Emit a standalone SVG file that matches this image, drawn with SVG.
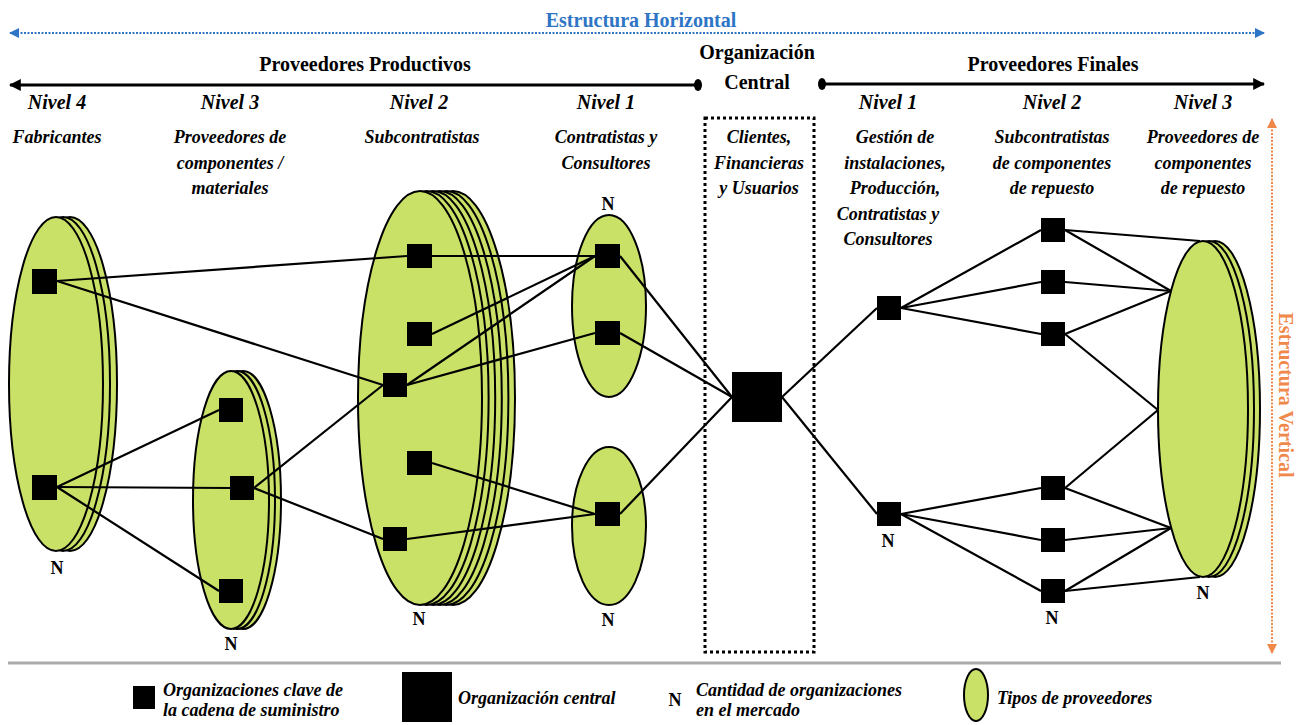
<svg xmlns="http://www.w3.org/2000/svg" width="1300" height="725" viewBox="0 0 1300 725">
<defs>
<style>
.bg{fill:#ffffff}
.ell{fill:#C9E166;stroke:#000;stroke-width:2}
.sq{fill:#000}
.con line{stroke:#000;stroke-width:2.2}
.hd{font-family:"Liberation Serif","Times New Roman",serif;font-weight:bold;font-size:20px;fill:#000;text-anchor:middle}
.nv{font-family:"Liberation Serif","Times New Roman",serif;font-weight:bold;font-style:italic;font-size:20px;fill:#000;text-anchor:middle}
.ds{font-family:"Liberation Serif","Times New Roman",serif;font-weight:bold;font-style:italic;font-size:18px;fill:#000;text-anchor:middle}
.n{font-family:"Liberation Serif","Times New Roman",serif;font-weight:bold;font-size:18px;fill:#000;text-anchor:middle}
.lg{font-family:"Liberation Serif","Times New Roman",serif;font-weight:bold;font-style:italic;font-size:18px;fill:#000}
</style>
<marker id="ab" viewBox="0 0 10 10" refX="9" refY="5" markerWidth="5" markerHeight="5" orient="auto-start-reverse"><path d="M0,0 L10,5 L0,10 z" fill="#2E75C6"/></marker>
<marker id="ao" viewBox="0 0 10 10" refX="9" refY="5" markerWidth="5" markerHeight="5" orient="auto-start-reverse"><path d="M0,0 L10,5 L0,10 z" fill="#F0884A"/></marker>
<marker id="ak" viewBox="0 0 10 10" refX="9" refY="5" markerWidth="4" markerHeight="4" orient="auto-start-reverse"><path d="M0,0 L10,5 L0,10 z" fill="#000"/></marker>
</defs>
<rect class="bg" x="0" y="0" width="1300" height="725"/>

<!-- top structure -->
<g id="horizontal">
<text x="641" y="27" class="hd" style="fill:#2E75C6">Estructura Horizontal</text>
<line x1="10" y1="33" x2="1264" y2="33" stroke="#2E75C6" stroke-width="2" stroke-dasharray="2 1.5" marker-start="url(#ab)" marker-end="url(#ab)"/>
</g>
<g id="productivos">
<text x="365" y="71" class="hd">Proveedores Productivos</text>
<line x1="10" y1="85" x2="698" y2="85" stroke="#000" stroke-width="3" marker-start="url(#ak)"/>
<ellipse cx="698" cy="85" rx="4" ry="6" fill="#000"/>
</g>
<g id="central-title">
<text x="757" y="59" class="hd">Organización</text>
<text x="757" y="89" class="hd">Central</text>
</g>
<g id="finales">
<text x="1053" y="71" class="hd">Proveedores Finales</text>
<ellipse cx="822" cy="84" rx="4" ry="6" fill="#000"/>
<line x1="822" y1="84" x2="1264" y2="84" stroke="#000" stroke-width="3" marker-end="url(#ak)"/>
</g>
<g id="vertical">
<line x1="1272" y1="119" x2="1272" y2="653" stroke="#F0884A" stroke-width="2" stroke-dasharray="2 1.5" marker-start="url(#ao)" marker-end="url(#ao)"/>
<text transform="translate(1279,395) rotate(90)" x="0" y="0" class="hd" style="fill:#F0884A">Estructura Vertical</text>
</g>

<!-- headers -->
<g id="headers">
<text x="57" y="109" class="nv">Nivel 4</text>
<text x="57" y="143" class="ds">Fabricantes</text>
<text x="230" y="109" class="nv">Nivel 3</text>
<text x="230" y="143" class="ds">Proveedores de</text>
<text x="230" y="169" class="ds">componentes /</text>
<text x="230" y="194" class="ds">materiales</text>
<text x="419" y="109" class="nv">Nivel 2</text>
<text x="422" y="143" class="ds">Subcontratistas</text>
<text x="606" y="109" class="nv">Nivel 1</text>
<text x="606" y="143" class="ds">Contratistas y</text>
<text x="606" y="169" class="ds">Consultores</text>
<text x="759" y="143" class="ds">Clientes,</text>
<text x="759" y="169" class="ds">Financieras</text>
<text x="759" y="194" class="ds">y Usuarios</text>
<text x="888" y="109" class="nv">Nivel 1</text>
<text x="895" y="143" class="ds">Gestión de</text>
<text x="895" y="169" class="ds">instalaciones,</text>
<text x="895" y="194" class="ds">Producción,</text>
<text x="888" y="220" class="ds">Contratistas y</text>
<text x="888" y="245" class="ds">Consultores</text>
<text x="1052" y="109" class="nv">Nivel 2</text>
<text x="1052" y="143" class="ds">Subcontratistas</text>
<text x="1052" y="169" class="ds">de componentes</text>
<text x="1052" y="194" class="ds">de repuesto</text>
<text x="1203" y="109" class="nv">Nivel 3</text>
<text x="1203" y="143" class="ds">Proveedores de</text>
<text x="1203" y="169" class="ds">componentes</text>
<text x="1203" y="194" class="ds">de repuesto</text>
</g>

<!-- central box -->
<rect id="central-box" x="705" y="118" width="109" height="534" fill="none" stroke="#000" stroke-width="3" stroke-dasharray="3 3"/>

<!-- ellipse stacks -->
<g id="nivel4-stack">
<ellipse class="ell" cx="70" cy="384" rx="47" ry="167"/>
<ellipse class="ell" cx="63" cy="384" rx="47" ry="167"/>
<ellipse class="ell" cx="56" cy="384" rx="47" ry="167"/>
</g>
<g id="nivel3-stack">
<ellipse class="ell" cx="243" cy="500" rx="38" ry="129"/>
<ellipse class="ell" cx="237" cy="500" rx="38" ry="129"/>
<ellipse class="ell" cx="231" cy="500" rx="38" ry="129"/>
</g>
<g id="nivel2-stack">
<ellipse class="ell" cx="453" cy="398" rx="62" ry="207"/>
<ellipse class="ell" cx="446.4" cy="398" rx="62" ry="207"/>
<ellipse class="ell" cx="439.8" cy="398" rx="62" ry="207"/>
<ellipse class="ell" cx="433.2" cy="398" rx="62" ry="207"/>
<ellipse class="ell" cx="426.6" cy="398" rx="62" ry="207"/>
<ellipse class="ell" cx="420" cy="398" rx="62" ry="207"/>
</g>
<g id="nivel1-upper">
<ellipse class="ell" cx="609" cy="306" rx="37" ry="91"/>
</g>
<g id="nivel1-lower">
<ellipse class="ell" cx="609" cy="526" rx="37" ry="79"/>
</g>
<g id="final-nivel3-stack">
<ellipse class="ell" cx="1215" cy="409" rx="45" ry="168"/>
<ellipse class="ell" cx="1209" cy="409" rx="45" ry="168"/>
<ellipse class="ell" cx="1203" cy="409" rx="45" ry="168"/>
</g>

<!-- connectors -->
<g id="connectors" class="con">
<line x1="57" y1="281" x2="407" y2="256"/>
<line x1="57" y1="281" x2="383" y2="385"/>
<line x1="57" y1="487" x2="219" y2="410"/>
<line x1="57" y1="487" x2="230" y2="488"/>
<line x1="57" y1="487" x2="219" y2="591"/>
<line x1="254" y1="488" x2="383" y2="385"/>
<line x1="254" y1="488" x2="383" y2="539"/>
<line x1="432" y1="256" x2="595" y2="256"/>
<line x1="432" y1="334" x2="595" y2="256"/>
<line x1="407" y1="385" x2="595" y2="256"/>
<line x1="407" y1="385" x2="595" y2="333"/>
<line x1="432" y1="463" x2="595" y2="514"/>
<line x1="407" y1="539" x2="595" y2="514"/>
<line x1="620" y1="256" x2="732" y2="397"/>
<line x1="620" y1="333" x2="732" y2="397"/>
<line x1="620" y1="514" x2="732" y2="397"/>
<line x1="782" y1="397" x2="877" y2="308"/>
<line x1="782" y1="397" x2="877" y2="514"/>
<line x1="901" y1="308" x2="1041" y2="230"/>
<line x1="901" y1="308" x2="1041" y2="282"/>
<line x1="901" y1="308" x2="1041" y2="334"/>
<line x1="901" y1="514" x2="1041" y2="488"/>
<line x1="901" y1="514" x2="1041" y2="540"/>
<line x1="901" y1="514" x2="1041" y2="591"/>
<line x1="1065" y1="230" x2="1200" y2="241"/>
<line x1="1065" y1="230" x2="1171" y2="291"/>
<line x1="1065" y1="282" x2="1171" y2="291"/>
<line x1="1065" y1="334" x2="1171" y2="291"/>
<line x1="1065" y1="334" x2="1158" y2="410"/>
<line x1="1065" y1="488" x2="1158" y2="410"/>
<line x1="1065" y1="488" x2="1171" y2="528"/>
<line x1="1065" y1="540" x2="1171" y2="528"/>
<line x1="1065" y1="591" x2="1171" y2="528"/>
<line x1="1065" y1="591" x2="1200" y2="577"/>
</g>

<!-- key organizations -->
<g id="n4-a"><rect class="sq" x="32" y="269" width="25" height="25"/></g>
<g id="n4-b"><rect class="sq" x="32" y="475" width="25" height="25"/></g>
<g id="n3-a"><rect class="sq" x="219" y="398" width="24" height="24"/></g>
<g id="n3-b"><rect class="sq" x="230" y="476" width="24" height="24"/></g>
<g id="n3-c"><rect class="sq" x="219" y="579" width="24" height="24"/></g>
<g id="n2-a"><rect class="sq" x="407" y="244" width="25" height="24"/></g>
<g id="n2-b"><rect class="sq" x="407" y="322" width="25" height="24"/></g>
<g id="n2-c"><rect class="sq" x="383" y="373" width="24" height="24"/></g>
<g id="n2-d"><rect class="sq" x="407" y="451" width="25" height="24"/></g>
<g id="n2-e"><rect class="sq" x="383" y="527" width="24" height="24"/></g>
<g id="n1-a"><rect class="sq" x="595" y="244" width="25" height="24"/></g>
<g id="n1-b"><rect class="sq" x="595" y="321" width="25" height="24"/></g>
<g id="n1-c"><rect class="sq" x="595" y="502" width="25" height="24"/></g>
<g id="central"><rect class="sq" x="732" y="372" width="50" height="50"/></g>
<g id="f1-a"><rect class="sq" x="877" y="296" width="24" height="24"/></g>
<g id="f1-b"><rect class="sq" x="877" y="502" width="24" height="24"/></g>
<g id="f2-a"><rect class="sq" x="1041" y="218" width="24" height="24"/></g>
<g id="f2-b"><rect class="sq" x="1041" y="270" width="24" height="24"/></g>
<g id="f2-c"><rect class="sq" x="1041" y="322" width="24" height="24"/></g>
<g id="f2-d"><rect class="sq" x="1041" y="476" width="24" height="24"/></g>
<g id="f2-e"><rect class="sq" x="1041" y="528" width="24" height="24"/></g>
<g id="f2-f"><rect class="sq" x="1041" y="579" width="24" height="24"/></g>

<!-- N labels -->
<g id="n-labels">
<text x="57" y="574" class="n">N</text>
<text x="231" y="650" class="n">N</text>
<text x="419" y="625" class="n">N</text>
<text x="608" y="210" class="n">N</text>
<text x="608" y="626" class="n">N</text>
<text x="888" y="547" class="n">N</text>
<text x="1052" y="624" class="n">N</text>
<text x="1203" y="599" class="n">N</text>
</g>

<!-- separator -->
<line x1="8" y1="663" x2="1281" y2="663" stroke="#AAAAAA" stroke-width="3"/>

<!-- legend -->
<g id="legend">
<rect class="sq" x="133" y="686" width="22" height="23"/>
<text x="163" y="696" class="lg">Organizaciones clave de</text>
<text x="163" y="716" class="lg">la cadena de suministro</text>
<rect class="sq" x="402" y="672" width="50" height="50"/>
<text x="458" y="704" class="lg">Organización central</text>
<text x="675" y="706" class="n">N</text>
<text x="696" y="696" class="lg">Cantidad de organizaciones</text>
<text x="696" y="716" class="lg">en el mercado</text>
<ellipse class="ell" cx="976" cy="695" rx="12" ry="26"/>
<text x="997" y="704" class="lg">Tipos de proveedores</text>
</g>
</svg>
